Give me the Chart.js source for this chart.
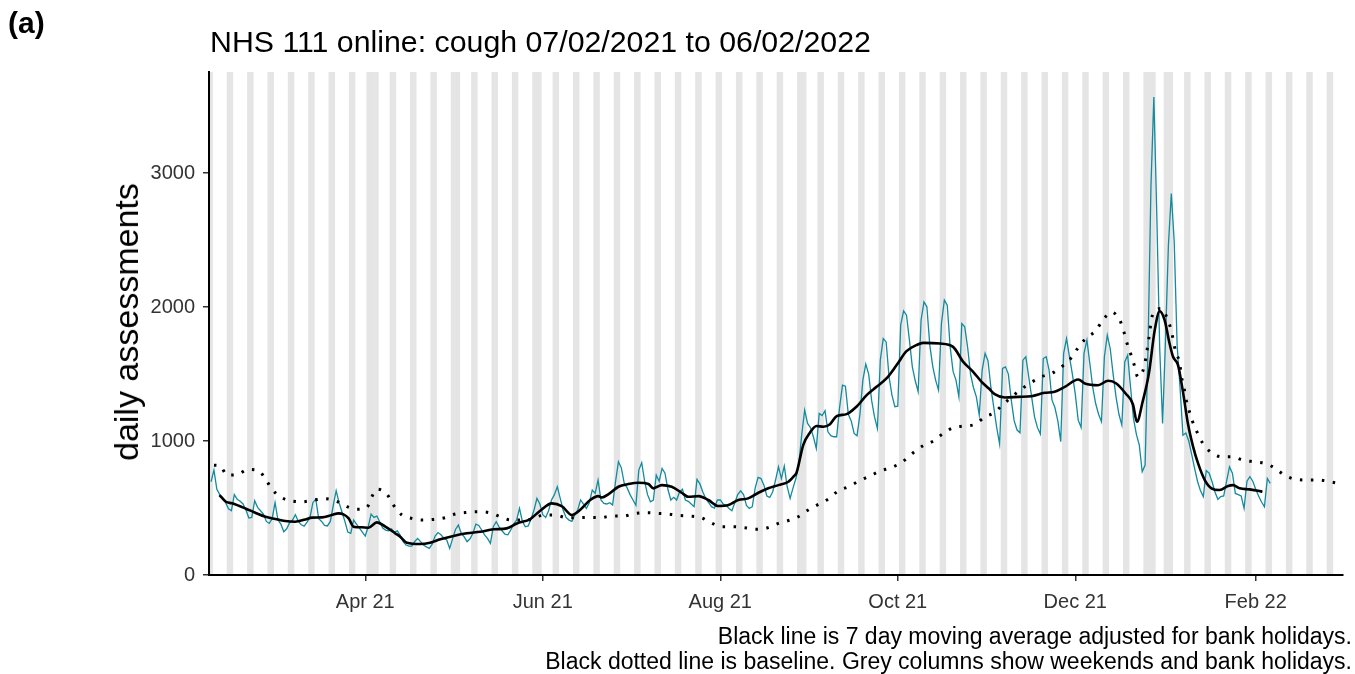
<!DOCTYPE html>
<html>
<head>
<meta charset="utf-8">
<script src="https://cdn.jsdelivr.net/npm/chart.js@4.4.1/dist/chart.umd.min.js"></script>
<style>
  html, body { margin: 0; padding: 0; background: #fff; }
  #wrap { position: relative; width: 1355px; height: 674px; font-family: 'Liberation Sans', Arial, sans-serif; color: #000; }
  #chart { position: absolute; left: 0; top: 0; }
  .txt { position: absolute; white-space: nowrap; }
  #tag { left: 8px; top: 6px; font-size: 30px; line-height: 34px; font-weight: bold; }
  #title { left: 210px; top: 25px; font-size: 30.3px; line-height: 34px; }
  #ytitle { left: 126px; top: 322px; font-size: 34px; line-height: 38px; transform: translate(-50%, -50%) rotate(-90deg); }
  #caption { right: 3px; top: 624px; font-size: 23px; line-height: 25px; text-align: right; }
</style>
</head>
<body>
<div id="wrap">
  <canvas id="chart" width="1355" height="674"></canvas>
  <div class="txt" id="tag">(a)</div>
  <div class="txt" id="title">NHS 111 online: cough 07/02/2021 to 06/02/2022</div>
  <div class="txt" id="ytitle">daily assessments</div>
  <div class="txt" id="caption">Black line is 7 day moving average adjusted for bank holidays.<br>Black dotted line is baseline. Grey columns show weekends and bank holidays.</div>
</div>
<script>
    // day 0 = Sun 07/02/2021
    const tickDays = [53, 114, 175, 236, 297, 359];
    const tickLabels = ['Apr 21', 'Jun 21', 'Aug 21', 'Oct 21', 'Dec 21', 'Feb 22'];
    const yTicks = [0, 1000, 2000, 3000];

    // daily assessments, one value per day from 07/02/2021 to 06/02/2022
    const dailyValues = [
      696, 783, 640, 600, 575, 540, 495,
      480, 600, 565, 550, 530, 485, 425,
      430, 555, 505, 480, 455, 400, 385,
      420, 540, 410, 380, 323, 345, 390,
      410, 450, 400, 375, 365, 395, 430,
      540, 567, 420, 400, 370, 366, 400,
      520, 629, 540, 470, 400, 320, 311,
      410, 380, 350, 320, 291, 360, 455,
      430, 440, 395, 350, 335, 330, 345,
      320, 330, 298, 249, 224, 215, 216,
      250, 273, 249, 224, 210, 199, 230,
      290, 317, 300, 275, 261, 199, 270,
      340, 373, 311, 285, 249, 270, 311,
      380, 370, 336, 300, 273, 236, 360,
      398, 360, 330, 305, 300, 336, 380,
      410, 497, 400, 360, 366, 420, 485,
      572, 530, 450, 430, 480, 560, 600,
      659, 572, 485, 430, 410, 400, 450,
      485, 560, 530, 497, 540, 634, 610,
      709, 560, 535, 530, 540, 522, 696,
      845, 800, 684, 650, 600, 560, 520,
      783, 838, 700, 600, 547, 560, 746,
      700, 796, 760, 640, 560, 580, 560,
      620, 640, 560, 550, 530, 510, 714,
      680, 620, 572, 540, 510, 500, 560,
      560, 530, 520, 497, 480, 540, 600,
      629, 600, 520, 497, 510, 650, 729,
      720, 671, 590, 579, 620, 709, 808,
      720, 813, 659, 572, 650, 720, 830,
      1050, 1231, 1131, 1100, 1032, 945, 1206,
      1190, 1226, 1069, 1040, 1032, 1032, 1250,
      1417, 1410, 1200, 1150, 1057, 1040, 1200,
      1455, 1574, 1500, 1305, 1180, 1094, 1604,
      1765, 1740, 1480, 1343, 1256, 1260, 1865,
      1972, 1940, 1753, 1554, 1450, 1368, 1902,
      2039, 2002, 1716, 1560, 1455, 1380, 1877,
      2052, 2014, 1703, 1520, 1455, 1330, 1877,
      1853, 1700, 1500, 1400, 1330, 1194, 1529,
      1654, 1600, 1400, 1250, 1100, 977, 1542,
      1554, 1500, 1305, 1150, 1082, 1062, 1604,
      1629, 1480, 1330, 1181, 1100, 1052, 1616,
      1629, 1529, 1305, 1250, 1150, 995, 1654,
      1765, 1629, 1500, 1350, 1156, 1101, 1654,
      1753, 1579, 1400, 1280, 1200, 1144, 1629,
      1790, 1691, 1500, 1330, 1200, 1119, 1591,
      1641, 1400, 1169, 1050, 970, 771, 821,
      1700, 2900, 3568, 2700, 1700, 1131, 1750,
      2462, 2847, 2487, 1715, 1400, 1044, 1060,
      1000, 900, 796, 700, 630, 585, 780,
      760, 696, 620, 565, 585, 590, 700,
      808, 760, 609, 600, 590, 497, 700,
      734, 700, 640, 590, 545, 510, 721,
      684
    ];

    // 7 day moving average
    const maDays = [
      2.9, 5.1, 7.2, 11.8, 15.2, 18.7, 22.1, 25.5, 28.9, 32.4, 34.7, 38.1, 41.5, 43.8, 45.5, 47.3,
      49, 51.8, 54.1, 57, 59.9, 63.3, 65, 67.3, 71.9, 75.3, 78.8, 83.3, 87.9, 92.5, 97.1, 101.6,
      105.1, 109.7, 113.1, 117.1, 120.5, 124, 126.8, 130.3, 133.1, 134.3, 136.6, 140, 143.4, 146.9,
      150.3, 152, 154.9, 158.3, 161.7, 164, 167.5, 170.9, 174.3, 177.8, 181.2, 184.6, 188.1, 191.5,
      195, 198.4, 200.4, 201.2, 203.5, 205.8, 208.1, 210.4, 212.7, 215, 218.4, 221.8, 225.3, 228.7,
      232.1, 235.6, 239, 242.4, 244.7, 250.5, 255, 258.5, 261.9, 264.8, 267.4, 269.3, 272.8, 277.4,
      281.9, 286.5, 289.9, 293.4, 298, 300.3, 304.8, 308.3, 311.1, 314.3, 316.8, 318.2, 320.1, 322.3,
      324.3, 326, 327.7, 329.4, 330.6, 332.3, 334, 335.7, 337.5, 339.2, 341.5, 343.8, 346.6, 349.5,
      351.2, 353.5, 356.9, 359.8, 361.3
    ];
    const maValues = [
      597, 547, 535, 497, 465, 435, 418, 403, 398, 415, 428, 430, 448, 460, 453, 423,
      361, 356, 353, 393, 361, 311, 286, 241, 231, 241, 266, 291, 311, 323, 341, 348,
      385, 418, 480, 535, 515, 448, 485, 560, 589, 579, 604, 659, 679, 689,
      679, 647, 671, 659, 614, 584, 589, 560, 515, 522, 560, 572, 614, 647,
      671, 696, 740, 763, 970, 1062, 1112, 1107, 1126, 1186, 1201, 1256, 1343, 1405,
      1467, 1567, 1671, 1716, 1733, 1728, 1703, 1591, 1517, 1442, 1390, 1350, 1325, 1330,
      1335, 1360, 1368, 1405, 1460, 1430, 1417, 1450, 1430, 1355, 1275, 1144, 1290, 1505,
      1828, 1970, 1902, 1728, 1629, 1567, 1368, 1131, 957, 833, 709, 647, 634, 664,
      671, 647, 639, 629, 622
    ];

    // baseline
    const baseDays = [
      1, 3.2, 5.5, 9.2, 12.6, 16.4, 18.9, 21.2, 24.2, 27.6, 31.5, 35, 39, 43, 46.7, 50.2, 53.6, 55, 57,
      60.4, 62.7, 65.6, 69, 72.8, 76.5, 80.5, 83.9, 87.9, 91.7, 95.7, 99.4, 103.1, 106.8, 110.6, 114.2,
      118.2, 122.3, 125.7, 130, 133.7, 137.7, 141.7, 145.7, 149.7, 153.4, 157.2, 160.8, 164.6, 168.4,
      171.8, 175.5, 179.5, 183.5, 187.3, 191.3, 195, 199, 201.8, 205.2, 208.7, 212.1, 215.5, 219,
      222.6, 226.4, 230.1, 233.9, 237.6, 241.3, 244.7, 248.4, 251.6, 255, 258.7, 262.5, 265.9, 269.1,
      271.9, 278.3, 281.7, 285.4, 288.8, 292.6, 295.4, 298, 300.6, 304, 306.3, 309.4, 312.3, 313.7,
      314.8, 316.2, 317.4, 318.5, 320.6, 321.4, 322, 322.6, 323.1, 324.5, 326.6, 328.5, 330, 331.5,
      332.9, 333.4, 334.3, 335, 336, 337.2, 338.8, 340.7, 343.4, 347.2, 350.9, 354.6, 358.4, 362.3,
      365.7, 368.9, 372.7, 376.6, 380.7, 384.6, 388.6
    ];
    const baseValues = [
      820, 813, 746, 751, 788, 778, 709, 634, 579, 552, 547, 559, 569, 552, 510, 490, 505, 572, 641,
      604, 522, 448, 423, 410, 415, 428, 455, 467, 472, 465, 435, 410, 410, 418, 448,
      448, 428, 428, 430, 428, 440, 440, 460, 465, 460, 455, 445, 440, 428,
      390, 361, 361, 353, 341, 353, 385, 410, 435, 485, 527, 567, 627, 659,
      701, 739, 778, 803, 845, 913, 965, 1002, 1057, 1099, 1112, 1124, 1180, 1211,
      1268, 1385, 1435, 1480, 1504, 1559, 1616, 1698, 1766, 1823, 1897, 1962, 1902, 1815,
      1728, 1641, 1557, 1478, 1549, 1641, 1728, 1815, 1902, 1977, 1989, 1922, 1823, 1666,
      1579, 1492, 1405, 1318, 1236, 1151, 1069, 987, 920, 883, 883, 858, 845, 833,
      796, 746, 714, 709, 709, 696, 679
    ];

    // bank holidays as day numbers: Good Friday, Easter Monday, May, Spring, August, Christmas, New Year
    const bankHolidays = [54, 57, 85, 113, 204, 323, 324, 330];
    const lastDay = 389;

    const greyDays = [];
    for (let d = 0; d <= lastDay; d++) {
      const wd = new Date(2021, 1, 7 + d).getDay();
      if (wd === 0 || wd === 6 || bankHolidays.includes(d)) greyDays.push(d);
    }

    const tickFont = { family: "'Liberation Sans', Arial, sans-serif", size: 20 };

    new Chart(document.getElementById('chart').getContext('2d'), {
      data: {
        datasets: [
          {
            type: 'line',
            label: 'baseline',
            data: baseDays.map((d, i) => ({ x: d, y: baseValues[i] })),
            borderColor: '#000',
            borderWidth: 3,
            borderDash: [2.5, 8.5],
            pointRadius: 0,
            cubicInterpolationMode: 'monotone',
            order: 0
          },
          {
            type: 'line',
            label: '7 day moving average',
            data: maDays.map((d, i) => ({ x: d, y: maValues[i] })),
            borderColor: '#000',
            borderWidth: 2.6,
            pointRadius: 0,
            cubicInterpolationMode: 'monotone',
            order: 1
          },
          {
            type: 'line',
            label: 'daily assessments',
            data: dailyValues.map((v, i) => ({ x: i, y: v })),
            borderColor: '#138a9e',
            borderWidth: 1.3,
            pointRadius: 0,
            tension: 0,
            order: 2
          },
          {
            type: 'bar',
            label: 'weekends and bank holidays',
            data: greyDays.map(d => ({ x: d, y: 1 })),
            backgroundColor: '#e5e5e5',
            borderWidth: 0,
            barPercentage: 1,
            categoryPercentage: 1,
            yAxisID: 'yBg',
            order: 3
          }
        ]
      },
      options: {
        responsive: false,
        animation: false,
        devicePixelRatio: 1,
        layout: { padding: { left: 0, right: 12, top: 72, bottom: 0 } },
        plugins: {
          legend: { display: false },
          tooltip: { enabled: false }
        },
        scales: {
          x: {
            type: 'linear',
            min: -0.7,
            max: lastDay,
            offset: false,
            afterBuildTicks: s => { s.ticks = tickDays.map(v => ({ value: v })); },
            afterFit: s => { s.height = 99; },
            ticks: {
              callback: (v, i) => tickLabels[i],
              font: tickFont,
              color: '#333',
              padding: 9,
              maxRotation: 0,
              autoSkip: false,
              z: 1
            },
            grid: { offset: false, drawOnChartArea: false, drawTicks: true, tickLength: 6, color: '#333', lineWidth: 1.5, z: 1 },
            border: { display: true, color: '#000', width: 2, z: 2 }
          },
          y: {
            min: 0,
            max: 3755,
            afterBuildTicks: s => { s.ticks = yTicks.map(v => ({ value: v })); },
            afterFit: s => { s.width = 209; },
            ticks: { callback: v => String(v), font: tickFont, color: '#333', padding: 8, z: 1 },
            grid: { drawOnChartArea: false, drawTicks: true, tickLength: 6, color: '#333', lineWidth: 1.5, z: 1 },
            border: { display: true, color: '#000', width: 2, z: 2 }
          },
          yBg: { display: false, min: 0, max: 1 }
        }
      }
    });
</script>
</body>
</html>
